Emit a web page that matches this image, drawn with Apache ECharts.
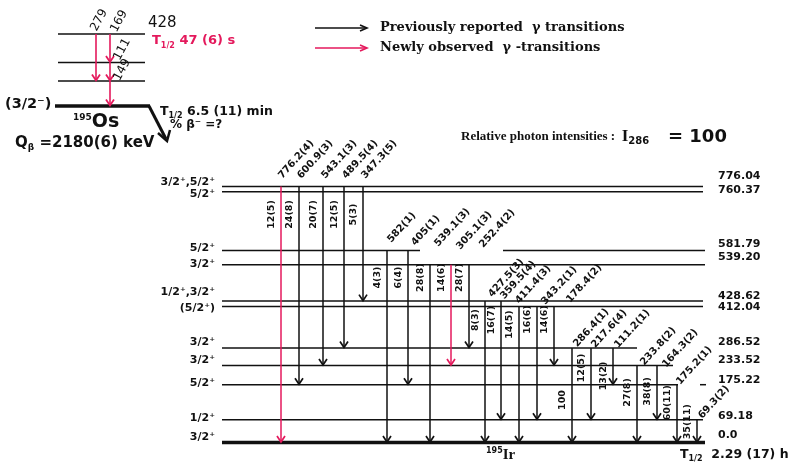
<!DOCTYPE html>
<html>
<head>
<meta charset="utf-8">
<script src="https://cdn.jsdelivr.net/npm/echarts@6/dist/echarts.min.js"></script>
<style>
  html, body { margin: 0; padding: 0; background: #fff; }
  #chart { width: 792px; height: 463px; }
</style>
</head>
<body>
<div id="chart"></div>
<script>
// ---- 195Ir levels fed in the beta decay of 195Os (keV) ----
const levelEnergy = [776.04, 760.37, 581.79, 539.20, 428.62, 412.04, 286.52, 233.52, 175.22, 69.18, 0.0];
const levelText   = ['776.04', '760.37', '581.79', '539.20', '428.62', '412.04', '286.52', '233.52', '175.22', '69.18', '0.0'];
const levelSpin   = ['3/2⁺,5/2⁺', '5/2⁺', '5/2⁺', '3/2⁺', '1/2⁺,3/2⁺', '(5/2⁺)', '3/2⁺', '3/2⁺', '5/2⁺', '1/2⁺', '3/2⁺'];

// ---- gamma transitions in 195Ir ----
const gammaLabel     = ['776.2(4)', '600.9(3)', '543.1(3)', '489.5(4)', '347.3(5)', '582(1)', '405(1)', '539.1(3)', '305.1(3)', '252.4(2)',
                        '427.5(3)', '359.5(4)', '411.4(3)', '343.2(1)', '178.4(2)', '286.4(1)', '217.6(4)', '111.2(1)', '233.8(2)', '164.3(2)',
                        '175.2(1)', '69.3(2)'];
const gammaFrom      = [776.04, 776.04, 776.04, 776.04, 776.04, 581.79, 581.79, 539.20, 539.20, 539.20,
                        428.62, 428.62, 412.04, 412.04, 412.04, 286.52, 286.52, 286.52, 233.52, 233.52,
                        175.22, 69.18];
const gammaTo        = [0.0, 175.22, 233.52, 286.52, 428.62, 0.0, 175.22, 0.0, 233.52, 286.52,
                        0.0, 69.18, 0.0, 69.18, 233.52, 0.0, 69.18, 175.22, 0.0, 69.18,
                        0.0, 0.0];
const gammaIntensity = ['12(5)', '24(8)', '20(7)', '12(5)', '5(3)', '4(3)', '6(4)', '28(8)', '14(6)', '28(7)',
                        '8(3)', '16(7)', '14(5)', '16(6)', '14(6)', '100', '12(5)', '13(2)', '27(8)', '38(8)',
                        '60(11)', '35(11)'];
const gammaIsNew     = [true, false, false, false, false, false, false, false, true, false,
                        false, false, false, false, false, false, false, false, false, false,
                        false, false];

// ---- 195Os isomer cascade (keV) ----
const osLevelEnergy = [428, 259, 149, 0];
const osLevelText   = ['428', '', '', ''];
const osGammaLabel  = ['279', '169', '111', '149'];
const osGammaFrom   = [428, 428, 259, 149];
const osGammaTo     = [149, 259, 149, 0];

// ---- layout (drawing columns and label placement, in px) ----
const gammaColumn    = [281, 299, 323, 344, 363, 387, 408, 430, 451, 469, 485, 501, 519, 537, 554, 572, 591, 613, 637, 657, 677, 697];
const gammaLabelDx   = [3, 4, 4, 4, 4, 6, 9, 10, 11, 16, 9, 5, 2, 10, 18, 7, 6, 7, 9, 11, 5, 7];
const gammaLabelLift = [6, 6, 6, 6, 6, 6, 3, 16, 13, 15, 2, 0, 1, 0, 2, -1, -2, -2, -2, -4, -2, -1];
const intensityDy    = [28, 28, 28, 28, 28, 27, 27, 13, 13, 13, 19, 19, 18, 13, 13, 52, 20, 28, 27, 26, 18, 2];
const osColumn       = [96, 110, 110, 110];
const osLabelDx      = [3, 9, 12, 12];
const osLabelLift    = [1, 0, 0, -2];
const levelSpans = [
  [[222, 703]], [[222, 703]], [[222, 420], [503, 705]], [[222, 705]], [[222, 703]], [[222, 703]],
  [[222, 637]], [[222, 673]], [[222, 678], [700, 706]], [[222, 703]], [[222, 705]]
];
const spinDy   = [-4, 2, -2, 0, -9, 2, -6, -5, -2, -2, -5];
const energyDy = [-10, -2, -6, -7, -5, 1, -6, -5, -5, -4, -7];

const SANS = "'DejaVu Sans', Verdana, sans-serif";
const SERIF = "'Liberation Serif', 'Times New Roman', serif";
const WIDE_SERIF = "'DejaVu Serif', 'Liberation Serif', serif";
const INK = '#111';
const RED = '#e4195c';

function vHead(x, y, color, w, h, lw) {
  return {
    type: 'polyline',
    shape: { points: [[x - w, y - h], [x, y], [x + w, y - h]] },
    style: { stroke: color, fill: null, lineWidth: lw || 1.6 }
  };
}

function renderLevels(spans, widths, spinTexts, energyTexts, spinX, energyX, spinFont, energyFont) {
  return function (params, api) {
    const i = params.dataIndex;
    const e = api.value(1);
    const y = api.coord([0, e])[1];
    const children = [];
    spans[i].forEach(function (s) {
      const x1 = api.coord([s[0], e])[0];
      const x2 = api.coord([s[1], e])[0];
      children.push({
        type: 'line',
        shape: { x1: x1, y1: y, x2: x2, y2: y },
        style: { stroke: INK, lineWidth: widths(i) }
      });
    });
    if (spinTexts && spinTexts[i]) {
      children.push({
        type: 'text', x: spinX, y: y + spinDy[i],
        style: { text: spinTexts[i], fill: INK, fontFamily: SANS, fontWeight: 'bold', fontSize: spinFont,
                 textAlign: 'right', textVerticalAlign: 'middle' }
      });
    }
    if (energyTexts && energyTexts[i]) {
      children.push({
        type: 'text', x: energyX, y: y + (energyFont.dy ? energyFont.dy[i] : 0),
        style: { text: energyTexts[i], fill: INK, fontFamily: SANS, fontWeight: energyFont.weight,
                 fontSize: energyFont.size, textAlign: 'left', textVerticalAlign: 'middle' }
      });
    }
    return { type: 'group', children: children };
  };
}

function renderGammas(opts) {
  return function (params, api) {
    const i = params.dataIndex;
    const x = api.value(0);
    const p1 = api.coord([x, api.value(1)]);
    const p2 = api.coord([x, api.value(2)]);
    const color = opts.isNew(i) ? RED : INK;
    const children = [
      { type: 'line', shape: { x1: p1[0], y1: p1[1], x2: p2[0], y2: p2[1] - 0.5 },
        style: { stroke: color, lineWidth: opts.lineWidth } },
      vHead(p2[0], p2[1] - 0.5, color, opts.headW, opts.headH, opts.lineWidth + 0.2)
    ];
    children.push({
      type: 'text',
      x: p1[0] + opts.labelDx[i], y: p1[1] - opts.labelLift[i],
      rotation: opts.angle * Math.PI / 180,
      style: { text: opts.labels[i], fill: INK, fontFamily: SANS, fontWeight: opts.labelWeight,
               fontSize: opts.labelSize, textAlign: 'left', textVerticalAlign: 'bottom' }
    });
    if (opts.intensity) {
      children.push({
        type: 'text',
        x: p1[0] - 9, y: p1[1] + opts.intensityDy[i],
        rotation: Math.PI / 2,
        style: { text: opts.intensity[i], fill: INK, fontFamily: SANS, fontWeight: 'bold',
                 fontSize: 9.5, textAlign: 'center', textVerticalAlign: 'middle' }
      });
    }
    return { type: 'group', children: children };
  };
}

function subText(x, y, main, sub, rest, size, color, align) {
  return { type: 'text', x: x, y: y, style: {
    text: '{t|' + main + '}{s|' + sub + '}{t|' + rest + '}', textVerticalAlign: 'middle', textAlign: align || 'left',
    rich: {
      t: { fontFamily: SANS, fontWeight: 'bold', fontSize: size, fill: color, lineHeight: size + 4 },
      s: { fontFamily: SANS, fontWeight: 'bold', fontSize: Math.round(size * 0.6), fill: color, verticalAlign: 'bottom', lineHeight: size + 4 }
    } } };
}

const chart = echarts.init(document.getElementById('chart'), null, { renderer: 'canvas' });

const option = {
  animation: false,
  backgroundColor: '#fff',
  grid: [
    { left: 0, width: 792, top: 186.5, height: 256, show: false },
    { left: 0, width: 792, top: 34, height: 72, show: false }
  ],
  xAxis: [
    { gridIndex: 0, type: 'value', min: 0, max: 792, show: false },
    { gridIndex: 1, type: 'value', min: 0, max: 792, show: false }
  ],
  yAxis: [
    { gridIndex: 0, type: 'value', min: 0, max: 776.04, show: false },
    { gridIndex: 1, type: 'value', min: 0, max: 428, show: false }
  ],
  series: [
    {
      type: 'custom', name: '195Ir levels', xAxisIndex: 0, yAxisIndex: 0, clip: false, silent: true,
      data: levelEnergy.map(function (e, i) { return [i, e]; }),
      renderItem: renderLevels(levelSpans, function (i) { return levelEnergy[i] === 0 ? 3.5 : 1.5; },
        levelSpin, levelText, 215, 718, 11, { size: 11, weight: 'bold', dy: energyDy })
    },
    {
      type: 'custom', name: '195Ir gammas', xAxisIndex: 0, yAxisIndex: 0, clip: false, silent: true, z: 3,
      data: gammaLabel.map(function (l, i) { return [gammaColumn[i], gammaFrom[i], gammaTo[i]]; }),
      renderItem: renderGammas({
        isNew: function (i) { return gammaIsNew[i]; },
        labels: gammaLabel, intensity: gammaIntensity, intensityDy: intensityDy,
        labelDx: gammaLabelDx, labelLift: gammaLabelLift,
        angle: 48, labelSize: 10, labelWeight: 'bold', lineWidth: 1.5, headW: 4, headH: 6
      })
    },
    {
      type: 'custom', name: '195Os levels', xAxisIndex: 1, yAxisIndex: 1, clip: false, silent: true,
      data: osLevelEnergy.map(function (e, i) { return [i, e]; }),
      renderItem: renderLevels(
        osLevelEnergy.map(function (e) { return e === 0 ? [[55, 150]] : [[58, 145]]; }),
        function (i) { return osLevelEnergy[i] === 0 ? 3.5 : 1.6; },
        null, osLevelText, 0, 148, 0, { size: 15, weight: 'normal', dy: [-11, 0, 0, 0] })
    },
    {
      type: 'custom', name: '195Os gammas', xAxisIndex: 1, yAxisIndex: 1, clip: false, silent: true, z: 3,
      data: osGammaLabel.map(function (l, i) { return [osColumn[i], osGammaFrom[i], osGammaTo[i]]; }),
      renderItem: renderGammas({
        isNew: function () { return true; },
        labels: osGammaLabel, labelDx: osLabelDx, labelLift: osLabelLift,
        angle: 62, labelSize: 12, labelWeight: 'normal', lineWidth: 1.6, headW: 4, headH: 6
      })
    }
  ],
  graphic: [
    // legend
    { type: 'line', shape: { x1: 315, y1: 28, x2: 366, y2: 28 }, style: { stroke: INK, lineWidth: 1.5 } },
    { type: 'polyline', shape: { points: [[360, 25], [367, 28], [360, 31]] }, style: { stroke: INK, fill: null, lineWidth: 1.6 } },
    { type: 'line', shape: { x1: 315, y1: 48, x2: 366, y2: 48 }, style: { stroke: RED, lineWidth: 1.5 } },
    { type: 'polyline', shape: { points: [[360, 45], [367, 48], [360, 51]] }, style: { stroke: RED, fill: null, lineWidth: 1.6 } },
    { type: 'text', x: 380, y: 28, style: { text: 'Previously reported  γ transitions', fill: INK, fontFamily: WIDE_SERIF, fontWeight: 'bold', fontSize: 13, textVerticalAlign: 'middle' } },
    { type: 'text', x: 380, y: 48, style: { text: 'Newly observed  γ -transitions', fill: INK, fontFamily: WIDE_SERIF, fontWeight: 'bold', fontSize: 13, textVerticalAlign: 'middle' } },
    // intensity normalisation
    { type: 'text', x: 461, y: 137, style: {
        text: '{a|Relative photon intensities :  }{b|I}{s|286}{c|   = 100}', textVerticalAlign: 'middle',
        rich: {
          a: { fontFamily: SERIF, fontWeight: 'bold', fontSize: 13, fill: INK, lineHeight: 19 },
          b: { fontFamily: SERIF, fontWeight: 'bold', fontSize: 17, fill: INK, lineHeight: 19 },
          s: { fontFamily: SANS, fontWeight: 'bold', fontSize: 10, fill: INK, verticalAlign: 'bottom', lineHeight: 19 },
          c: { fontFamily: SANS, fontWeight: 'bold', fontSize: 18, fill: INK, lineHeight: 19 }
        } } },
    // 195Os parent annotations
    subText(152, 41, 'T', '1/2', ' 47 (6) s', 13, RED),
    { type: 'text', x: 5, y: 104, style: { text: '(3/2⁻)', fill: INK, fontFamily: SANS, fontWeight: 'bold', fontSize: 14.5, textVerticalAlign: 'middle' } },
    { type: 'text', x: 73, y: 122, style: {
        text: '{p|195}{n|Os}', textVerticalAlign: 'middle',
        rich: {
          p: { fontFamily: SANS, fontWeight: 'bold', fontSize: 9, fill: INK, verticalAlign: 'top', lineHeight: 18 },
          n: { fontFamily: SANS, fontWeight: 'bold', fontSize: 19, fill: INK, lineHeight: 18 }
        } } },
    subText(160, 112, 'T', '1/2', ' 6.5 (11) min', 12.5, INK),
    { type: 'text', x: 170, y: 125, style: { text: '% β⁻ =?', fill: INK, fontFamily: SANS, fontWeight: 'bold', fontSize: 12, textVerticalAlign: 'middle' } },
    subText(15, 143, 'Q', 'β', ' =2180(6) keV', 15, INK),
    // beta branch from the 195Os ground state
    { type: 'line', shape: { x1: 149, y1: 106, x2: 166, y2: 139 }, style: { stroke: INK, lineWidth: 3 } },
    { type: 'polyline', shape: { points: [[158, 133], [167, 141], [170, 130]] }, style: { stroke: INK, fill: null, lineWidth: 2.5 } },
    // daughter annotations
    { type: 'text', x: 486, y: 455, style: {
        text: '{p|195}{n|Ir}', textVerticalAlign: 'middle',
        rich: {
          p: { fontFamily: SANS, fontWeight: 'bold', fontSize: 8, fill: INK, verticalAlign: 'top', lineHeight: 16 },
          n: { fontFamily: SERIF, fontWeight: 'bold', fontSize: 15, fill: INK, lineHeight: 16 }
        } } },
    subText(680, 455, 'T', '1/2', '  2.29 (17) h', 12.5, INK)
  ]
};

chart.setOption(option);
</script>
</body>
</html>
